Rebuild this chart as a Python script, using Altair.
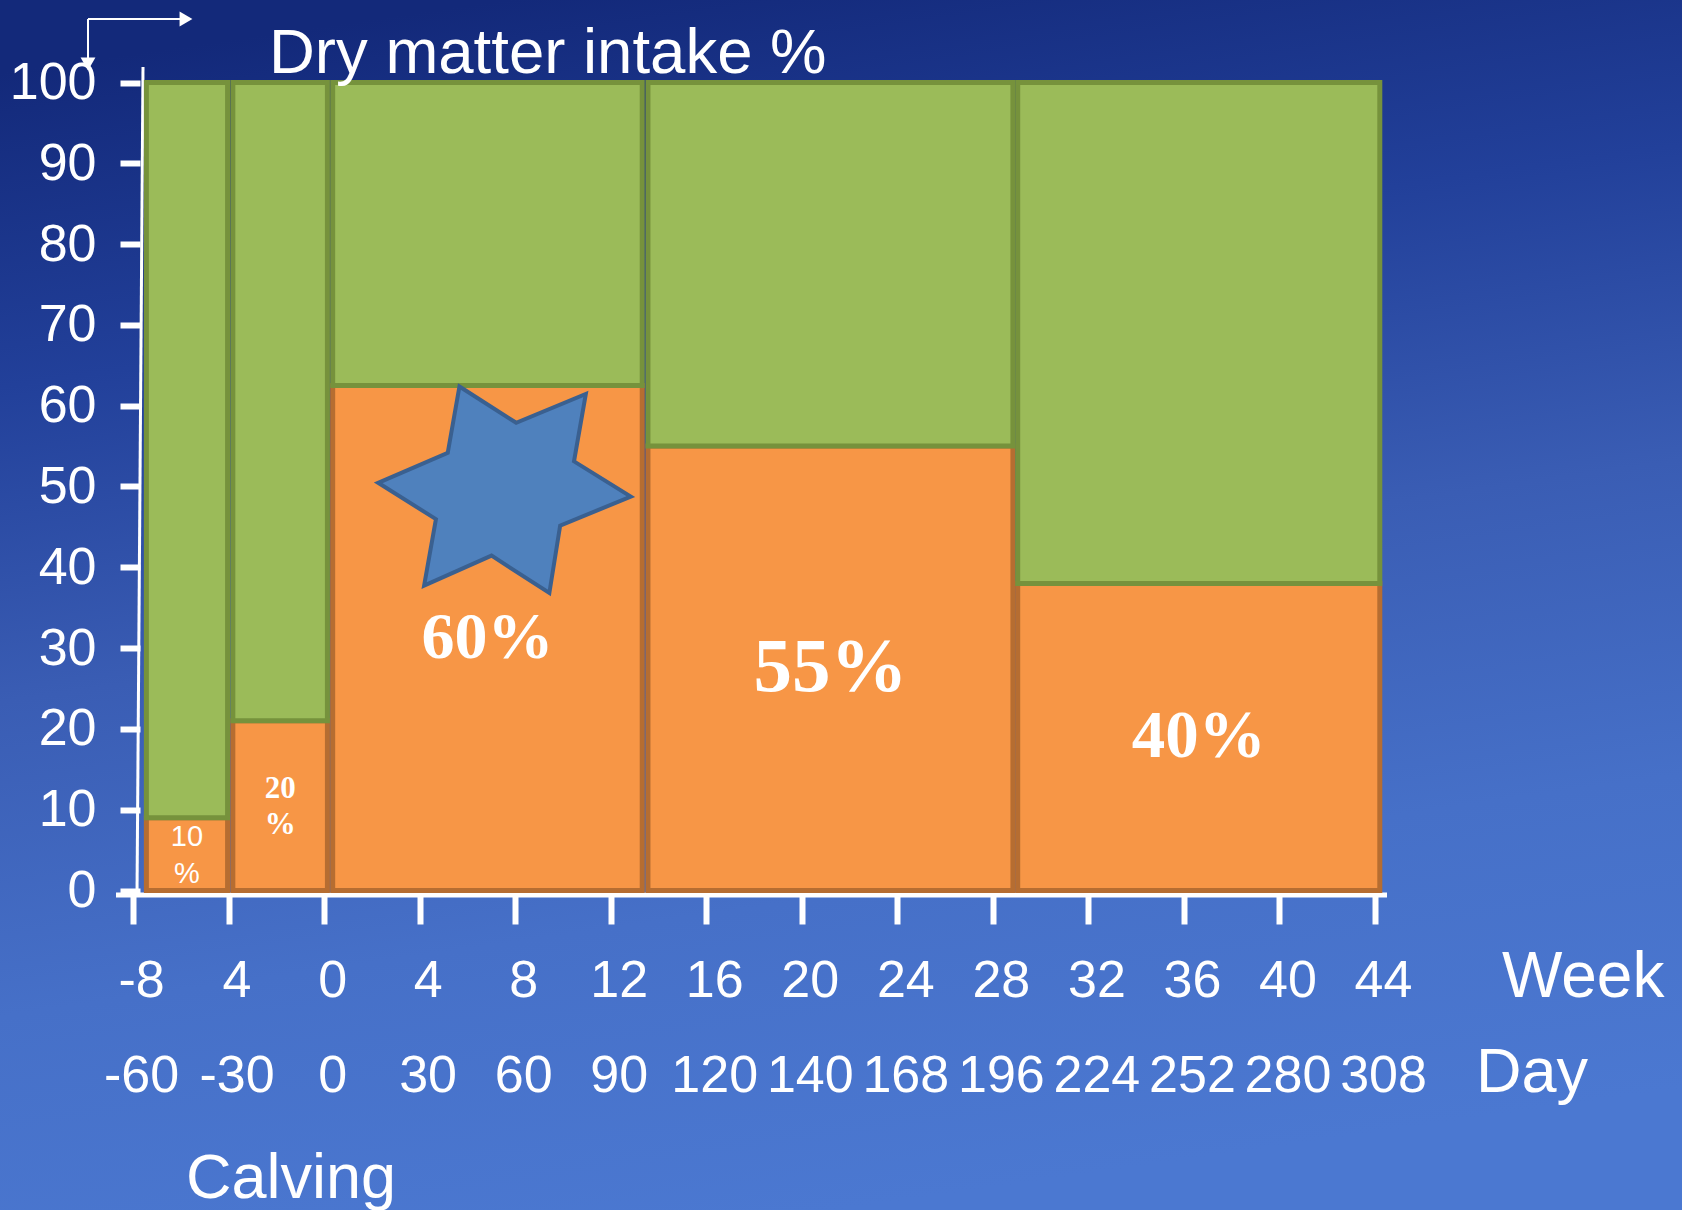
import json
import altair as alt
import pandas as pd

# ---------------- data ----------------
week_labels = ["-8", "4", "0", "4", "8", "12", "16", "20", "24", "28", "32", "36", "40", "44"]
day_labels = ["-60", "-30", "0", "30", "60", "90", "120", "140", "168", "196", "224", "252", "280", "308"]
y_tick_values = [0, 10, 20, 30, 40, 50, 60, 70, 80, 90, 100]

# feeding periods, expressed in x-axis tick-index units
period_start = [0.14, 1.045, 2.09, 5.39, 9.26]
period_end = [0.99, 2.035, 5.33, 9.21, 13.05]
concentrate_pct = [9, 21, 62.5, 55, 38]       # orange (lower) part
total_pct = [100, 100, 100, 100, 100]         # green part goes up to this
period_label = ["10\n%", "20\n%", "60%", "55%", "40%"]

star_x = [3.89]
star_y = [49.6]

title_text = "Dry matter intake %"
week_title = "Week"
day_title = "Day"
calving_text = "Calving"

# ---------------- layout ----------------
W, H = 1682, 1210
X0_PX, X_STEP = 133.0, 95.54     # pixel of tick index 0, pixels per tick
Y0_PX, Y_STEP = 890.5, 8.08      # pixel of value 0, pixels per unit


def px_to_x(px):
    return (px - X0_PX) / X_STEP


def py_to_y(py):
    return (Y0_PX - py) / Y_STEP


xs = alt.Scale(domain=[px_to_x(0), px_to_x(W)], nice=False, zero=False)
ys = alt.Scale(domain=[py_to_y(H), py_to_y(0)], nice=False, zero=False)

ORANGE, ORANGE_DARK = "#F79646", "#B66D31"
GREEN, GREEN_DARK = "#9BBB59", "#76923C"
STAR_FILL, STAR_STROKE = "#4F81BD", "#3A6090"
SANS = "Liberation Sans"
SERIF = "Liberation Serif"
LABEL_SIZES = [29, 31, 66, 77, 67]

one = pd.DataFrame({"k": [0]})
bars = pd.DataFrame({
    "start": period_start,
    "end": period_end,
    "orange": concentrate_pct,
    "total": total_pct,
    "label": period_label,
})

x_label_expr = f"[{json.dumps(week_labels)}[datum.value], {json.dumps(day_labels)}[datum.value]]"

x_axis = alt.Axis(
    values=list(range(len(week_labels))), labelExpr=x_label_expr, orient="bottom",
    offset=895 - H, domain=False, grid=False, tickSize=29, tickWidth=6, tickColor="white",
    labelColor="white", labelFont=SANS, labelFontSize=52, labelPadding=31,
    labelLineHeight=95, labelOffset=8, labelOverlap=False, labelFlush=False,
    labelAlign="center", labelBaseline="top", title=None, zindex=2,
)
y_axis = alt.Axis(
    values=y_tick_values, orient="left", offset=-140, domain=False, grid=False,
    tickSize=20, tickWidth=6, tickColor="white", labelColor="white", labelFont=SANS,
    labelFontSize=52, labelPadding=24, labelAlign="right", labelBaseline="middle",
    labelOverlap=False, labelFlush=False, title=None, zindex=2,
)


def X(field=None, datum=None):
    if datum is not None:
        return alt.X(datum=datum, scale=xs, axis=x_axis)
    return alt.X(field, scale=xs, axis=x_axis)


def Y(field=None, datum=None):
    if datum is not None:
        return alt.Y(datum=datum, scale=ys, axis=y_axis)
    return alt.Y(field, scale=ys, axis=y_axis)


# ---------------- background ----------------
bg_grad = alt.LinearGradient(
    gradient="linear",
    stops=[
        alt.GradientStop(color="#13297a", offset=0),
        alt.GradientStop(color="#22409a", offset=0.25),
        alt.GradientStop(color="#3a5db4", offset=0.5),
        alt.GradientStop(color="#4670c8", offset=0.75),
        alt.GradientStop(color="#4b78d1", offset=1),
    ],
    x1=0.3, y1=0, x2=0.5, y2=1,
)
background = alt.Chart(one).mark_rect(color=bg_grad).encode(
    x=X(datum=px_to_x(0)), x2=alt.datum(px_to_x(W)),
    y=Y(datum=py_to_y(H)), y2=alt.datum(py_to_y(0)),
)

# ---------------- axis lines ----------------
y_axis_line = alt.Chart(one).mark_rule(color="white", strokeWidth=3).encode(
    x=X(datum=px_to_x(143)), x2=alt.datum(px_to_x(137)),
    y=Y(datum=py_to_y(67)), y2=alt.datum(py_to_y(895)),
)
x_axis_line = alt.Chart(one).mark_rule(color="white", strokeWidth=5).encode(
    x=X(datum=px_to_x(116)), x2=alt.datum(px_to_x(1387)),
    y=Y(datum=py_to_y(895)),
)

# ---------------- bars ----------------
orange_bars = alt.Chart(bars).mark_rect(
    fill=ORANGE, stroke=ORANGE_DARK, strokeWidth=5, strokeJoin="miter"
).encode(
    x=X("start:Q"), x2="end:Q",
    y=Y("orange:Q"), y2=alt.datum(0),
)
green_bars = alt.Chart(bars).mark_rect(
    fill=GREEN, stroke=GREEN_DARK, strokeWidth=5, strokeJoin="miter"
).encode(
    x=X("start:Q"), x2="end:Q",
    y=Y("orange:Q"), y2="total:Q",
)

# ---------------- star ----------------
STAR_PATH = ("M-0.352,-0.804 L0.09,-0.521 L0.632,-0.746 L0.54,-0.221 L0.982,0.054 "
             "L0.432,0.279 L0.348,0.804 L-0.102,0.513 L-0.627,0.746 L-0.535,0.229 "
             "L-0.985,-0.054 L-0.443,-0.288 Z")
star = alt.Chart(pd.DataFrame({"x": star_x, "y": star_y})).mark_point(
    shape=STAR_PATH, filled=True, fill=STAR_FILL, stroke=STAR_STROKE, strokeWidth=4,
    size=66000, opacity=1, fillOpacity=1, strokeOpacity=1, strokeJoin="miter",
).encode(x=X("x:Q"), y=Y("y:Q"))

# ---------------- bar labels ----------------
label_base = alt.Chart(bars).transform_calculate(
    mx="(datum.start + datum.end) / 2",
    my="datum.orange / 2",
    fs=f"{json.dumps(LABEL_SIZES)}[indexof({json.dumps(period_label)}, datum.label)]",
)
small_label = label_base.transform_filter(alt.datum.label == period_label[0]).mark_text(
    font=SANS, fontSize=LABEL_SIZES[0], color="white", lineBreak="\n", lineHeight=37,
    align="center", baseline="middle", dy=-17,
).encode(x=X("mx:Q"), y=Y("my:Q"), text="label:N")
two_line_label = label_base.transform_filter(alt.datum.label == period_label[1]).mark_text(
    font=SERIF, fontWeight="bold", fontSize=LABEL_SIZES[1], color="white", lineBreak="\n",
    lineHeight=36, align="center", baseline="middle", dy=-17,
).encode(x=X("mx:Q"), y=Y("my:Q"), text="label:N")
serif_labels = label_base.transform_filter(
    (alt.datum.label != period_label[0]) & (alt.datum.label != period_label[1])
).mark_text(
    font=SERIF, fontWeight="bold", color="white", align="center", baseline="middle",
).encode(
    x=X("mx:Q"), y=Y("my:Q"), text="label:N",
    size=alt.Size("fs:Q", scale=None, legend=None),
)

# ---------------- arrow (top left) ----------------
arrow_v = alt.Chart(one).mark_rule(color="white", strokeWidth=2).encode(
    x=X(datum=px_to_x(88)), y=Y(datum=py_to_y(19)), y2=alt.datum(py_to_y(60)),
)
arrow_h = alt.Chart(one).mark_rule(color="white", strokeWidth=2).encode(
    x=X(datum=px_to_x(88)), x2=alt.datum(px_to_x(182)), y=Y(datum=py_to_y(19)),
)
head_down = alt.Chart(one).mark_point(
    shape="triangle-down", filled=True, color="white", size=220, opacity=1
).encode(x=X(datum=px_to_x(88)), y=Y(datum=py_to_y(64)))
head_right = alt.Chart(one).mark_point(
    shape="triangle-right", filled=True, color="white", size=220, opacity=1
).encode(x=X(datum=px_to_x(186)), y=Y(datum=py_to_y(19)))


# ---------------- annotation texts ----------------
def annot(text, px, py, size):
    return alt.Chart(one).mark_text(
        text=text, font=SANS, fontSize=size, color="white", align="left", baseline="alphabetic"
    ).encode(x=X(datum=px_to_x(px)), y=Y(datum=py_to_y(py)))


texts = [
    annot(title_text, 269, 73, 63.5),
    annot(week_title, 1502, 997, 64),
    annot(day_title, 1476, 1092, 63),
    annot(calving_text, 186, 1198, 63),
]

chart = alt.layer(
    background, y_axis_line, x_axis_line, orange_bars, green_bars, star,
    small_label, two_line_label, serif_labels, arrow_v, arrow_h, head_down, head_right, *texts,
).properties(
    width=W, height=H, padding=0, background="#2d4ba3",
    autosize=alt.AutoSizeParams(type="none"),
).configure_view(stroke=None)

chart.save("out.html", embed_options={"renderer": "svg", "actions": False})
